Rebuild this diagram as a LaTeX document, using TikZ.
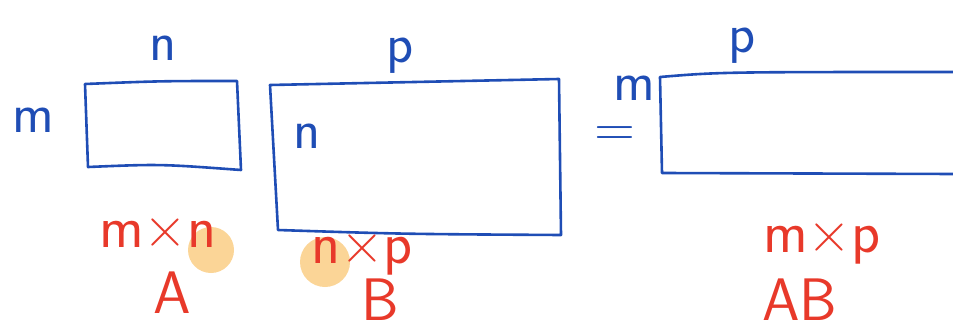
\documentclass[tikz,border=0pt]{standalone}
\definecolor{inkblue}{HTML}{1F4DB5}
\definecolor{inkred}{HTML}{E8392A}
\definecolor{hilite}{HTML}{FBD597}
\tikzset{
  mat/.style={draw=inkblue, line width=2.6pt, line cap=round, line join=round},
  blab/.style={text=inkblue, font=\fontsize{56}{56}\selectfont\sffamily, inner sep=0pt, anchor=base},
  rlab/.style={text=inkred, font=\fontsize{60}{60}\selectfont\sffamily, inner sep=0pt, anchor=base},
  dot/.style={fill=hilite, draw=none}
}
\begin{document}
\begin{tikzpicture}[x=1pt,y=-1pt]
\useasboundingbox (0,0) rectangle (953,332);
% highlights
\fill[dot] (211,250) circle (23);
\fill[dot] (325,262) circle (25);
% matrix A
\draw[mat] (85,84) .. controls (160,81) .. (237,81) -- (241,170) .. controls (160,164) .. (88,167) -- cycle;
% matrix B
\draw[mat] (270,85) -- (559,79) -- (561,235) .. controls (400,234) .. (278,230) -- cycle;
% matrix AB
\coordinate (abtl) at (660,77);
\coordinate (abbl) at (662,173);
\draw[mat] (955,72) .. controls (720,72) .. (abtl) -- (abbl) -- (955,174);
% blue labels
\node[blab] (nA) at (163,60) {n};
\node[blab] (mA) at (33,132) {m};
\node[blab] (pB) at (400,62) {p};
\node[blab] (nB) at (307,148) {n};
\node[blab] (eq) at (615,146) {=};
\node[blab] (mAB) at (634,100) {m};
\node[blab] (pAB) at (742,52) {p};
% red labels
\node[rlab] (dimA) at (158,247) {m×n};
\node[rlab] (A) at (172,313) {A};
\node[rlab] (dimB) at (362,263) {n×p};
\node[rlab] (B) at (380,320) {B};
\node[rlab] (dimAB) at (822,252) {m×p};
\node[rlab] (AB) at (800,320) {AB};
\end{tikzpicture}
\end{document}
